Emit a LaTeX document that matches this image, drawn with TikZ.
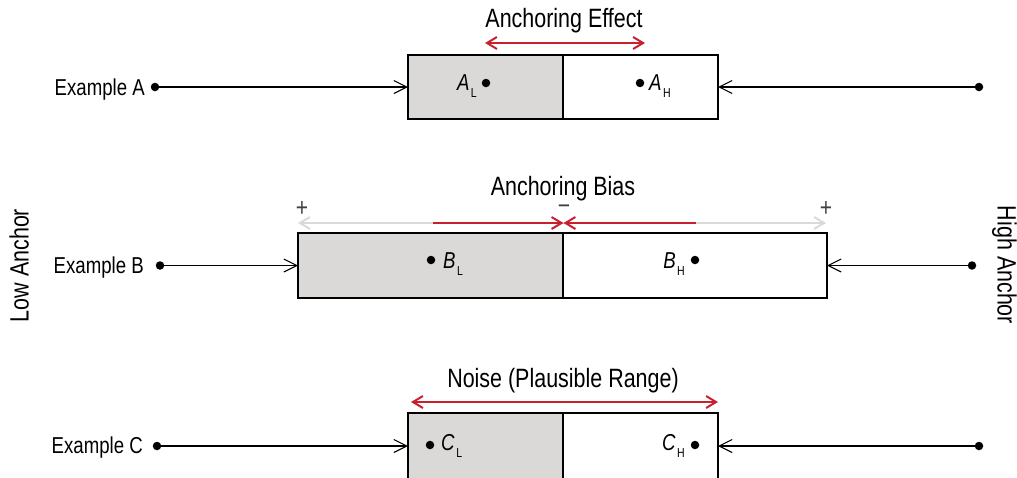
\documentclass[tikz,border=0pt]{standalone}
\usepackage{fontspec}
\setmainfont[FakeStretch=0.81]{Liberation Sans}
\usetikzlibrary{arrows.meta}
\definecolor{ared}{RGB}{200,32,45}
\definecolor{boxgray}{RGB}{218,217,215}
\definecolor{lightline}{RGB}{218,218,218}
\newcommand\ttlfont{\fontsize{26.5}{30}\selectfont}
\newcommand\exfont{\fontsize{23}{26}\selectfont}
\newcommand\lab[2]{\textit{#1}\kern1.5pt\raisebox{-7pt}{\fontsize{13}{13}\selectfont #2}}
\begin{document}
\begin{tikzpicture}[x=1pt,y=-1pt,
  half/.style={draw, line width=1.2pt, inner sep=0pt, outer sep=0pt},
  lowhalf/.style={half, fill=boxgray},
  hihalf/.style={half, fill=white},
  enddot/.style={circle, fill, inner sep=0pt, minimum size=8.5pt},
  conn/.style={line width=1.1pt, -{Straight Barb[length=13pt,width=13pt,line width=1.1pt]}},
  redtip/.tip={Straight Barb[length=10pt,width=12pt,line width=2pt]},
  graytip/.tip={Straight Barb[length=10pt,width=12pt,line width=2pt]},
  redarr/.style={draw=ared, line width=2.2pt},
  grayarr/.style={draw=lightline, line width=2.2pt, -graytip},
  title/.style={font=\ttlfont, anchor=base, inner sep=0pt},
  exlabel/.style={font=\exfont, anchor=base east, inner sep=0pt},
  sublabel/.style={font=\exfont, inner sep=0pt},
  sign/.style={font=\fontsize{26}{26}\selectfont, text=black!75, inner sep=0pt}
]
\useasboundingbox (0,0) rectangle (1017,477);

% ---------- Example A ----------
\node[title] (tA) at (564,27.5) {Anchoring Effect};
\node[lowhalf, minimum width=155pt, minimum height=64pt] (aL) at (485.5,87) {};
\node[hihalf, minimum width=155pt, minimum height=64pt] (aH) at (640.5,87) {};
\coordinate (ae1) at (485,43);
\coordinate (ae2) at (645,43);
\draw[redarr, redtip-redtip] (ae1) -- (ae2);
\node[enddot] (eA) at (155,87) {};
\node[enddot] (hA) at (979,87) {};
\node[exlabel] (xA) at (145,95) {Example A};
\draw[conn] (eA) -- (aL.west);
\draw[conn] (hA) -- (aH.east);
\node[enddot] (dAL) at (486,83) {};
\node[enddot] (dAH) at (640,83) {};
\node[sublabel, anchor=base east] (lAL) at (477,90.5) {\lab{A}{L}};
\node[sublabel, anchor=base west] (lAH) at (649,90.5) {\lab{A}{H}};

% ---------- Example B ----------
\node[title] (tB) at (563,195) {Anchoring Bias};
\node[lowhalf, minimum width=265pt, minimum height=65pt] (bL) at (430.5,265.5) {};
\node[hihalf, minimum width=264pt, minimum height=65pt] (bH) at (695,265.5) {};
\coordinate (bm) at (563.5,223);
\coordinate (bg1) at (298,223);
\coordinate (bg2) at (826,223);
\coordinate (br1) at (433,223);
\coordinate (br2) at (696,223);
\draw[grayarr] (bm) -- (bg1);
\draw[grayarr] (bm) -- (bg2);
\draw[redarr, -redtip] (br1) -- (bm);
\draw[redarr, -redtip] (br2) -- (bm);
\node[sign] (p1) at (302,209) {+};
\node[sign] (p2) at (826,209) {+};
\node[sign, anchor=base, text height=10pt, text depth=0pt] (m1) at (564,214) {−};
\node[enddot] (eB) at (160,265.5) {};
\node[enddot] (hB) at (972,265.5) {};
\node[exlabel] (xB) at (144,273) {Example B};
\draw[conn] (eB) -- (bL.west);
\draw[conn] (hB) -- (bH.east);
\node[enddot] (dBL) at (431,260) {};
\node[enddot] (dBH) at (695,260) {};
\node[sublabel, anchor=base west] (lBL) at (443,268) {\lab{B}{L}};
\node[sublabel, anchor=base east] (lBH) at (685,268) {\lab{B}{H}};

% ---------- Example C ----------
\node[title] (tC) at (563,387) {Noise (Plausible Range)};
\node[lowhalf, minimum width=155pt, minimum height=66pt] (cL) at (485.5,446) {};
\node[hihalf, minimum width=155pt, minimum height=66pt] (cH) at (640.5,446) {};
\coordinate (n1) at (411,402);
\coordinate (n2) at (718,402);
\draw[redarr, redtip-redtip] (n1) -- (n2);
\node[enddot] (eC) at (157,446) {};
\node[enddot] (hC) at (979,446) {};
\node[exlabel] (xC) at (143,453) {Example C};
\draw[conn] (eC) -- (cL.west);
\draw[conn] (hC) -- (cH.east);
\node[enddot] (dCL) at (430,445) {};
\node[enddot] (dCH) at (695,445) {};
\node[sublabel, anchor=base west] (lCL) at (441,450) {\lab{C}{L}};
\node[sublabel, anchor=base east] (lCH) at (685,450) {\lab{C}{H}};

% ---------- side labels ----------
\node[font=\ttlfont, rotate=90, anchor=base, inner sep=0pt] (low) at (28.5,265.5) {Low Anchor};
\node[font=\ttlfont, rotate=-90, anchor=base, inner sep=0pt] (high) at (997.5,265) {High Anchor};
\end{tikzpicture}
\end{document}
